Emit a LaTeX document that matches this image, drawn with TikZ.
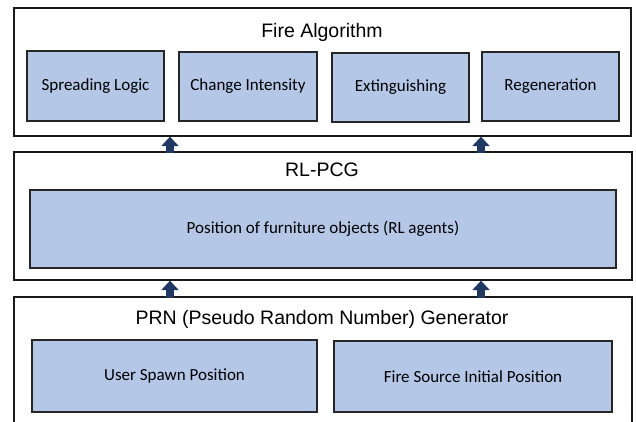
\documentclass[tikz,border=0pt]{standalone}
\usepackage{fontspec}
\setmainfont{Liberation Sans}
\newfontfamily\calib{Carlito}
\usetikzlibrary{arrows.meta}
\definecolor{boxblue}{HTML}{B4C7E7}
\definecolor{arrownavy}{HTML}{1F3864}
\tikzset{
  layer/.style={rectangle,draw=black!90,line width=1.3pt,inner sep=0pt},
  part/.style={rectangle,draw=black!85,fill=boxblue,line width=1.3pt,inner sep=0pt,
    font=\calib\fontsize{17}{20}\selectfont},
  title/.style={inner sep=0pt,font=\fontsize{19.5}{22}\selectfont},
  uparrow/.style={line width=7.5pt,arrownavy,-{Triangle[length=9.5pt,width=17pt]}}
}
\begin{document}
\begin{tikzpicture}[x=1pt,y=-1pt]
\useasboundingbox (0,0) rectangle (636,422);
\clip (0,0) rectangle (636,422);
\draw (322.5,72) node[layer,minimum width=617pt,minimum height=128pt] (fire) {};
\draw (322,32) node[title] (firet) {Fire Algorithm};
\draw (95.5,86) node[part,minimum width=137pt,minimum height=70pt] (spread) {Spreading Logic};
\draw (248,86.5) node[part,minimum width=138pt,minimum height=69pt] (change) {Change Intensity};
\draw (400.5,87.5) node[part,minimum width=137pt,minimum height=69pt] (exting) {Extinguishing};
\draw (550.5,86.5) node[part,minimum width=137pt,minimum height=69pt] (regen) {Regeneration};

\draw (323,216) node[layer,minimum width=618pt,minimum height=128pt] (rl) {};
\draw (322,170) node[title] (rlt) {RL-PCG};
\draw (323,229) node[part,minimum width=586pt,minimum height=78pt] (furn) {Position of furniture objects (RL agents)};

\draw (323,369.5) node[layer,minimum width=618pt,minimum height=145pt] (prn) {};
\draw (322,319) node[title] (prnt) {PRN (Pseudo Random Number) Generator};
\draw (174.5,376) node[part,minimum width=285pt,minimum height=72pt] (user) {User Spawn Position};
\draw (473,376.5) node[part,minimum width=278pt,minimum height=71pt] (source) {Fire Source Initial Position};

\coordinate (al) at (170,0);
\coordinate (ar) at (481,0);
\draw[uparrow] ([yshift=-2pt]rl.north -| al) -- (fire.south -| al);
\draw[uparrow] ([yshift=-2pt]rl.north -| ar) -- (fire.south -| ar);
\draw[uparrow] ([yshift=-2pt]prn.north -| al) -- (rl.south -| al);
\draw[uparrow] ([yshift=-2pt]prn.north -| ar) -- (rl.south -| ar);
\end{tikzpicture}
\end{document}
